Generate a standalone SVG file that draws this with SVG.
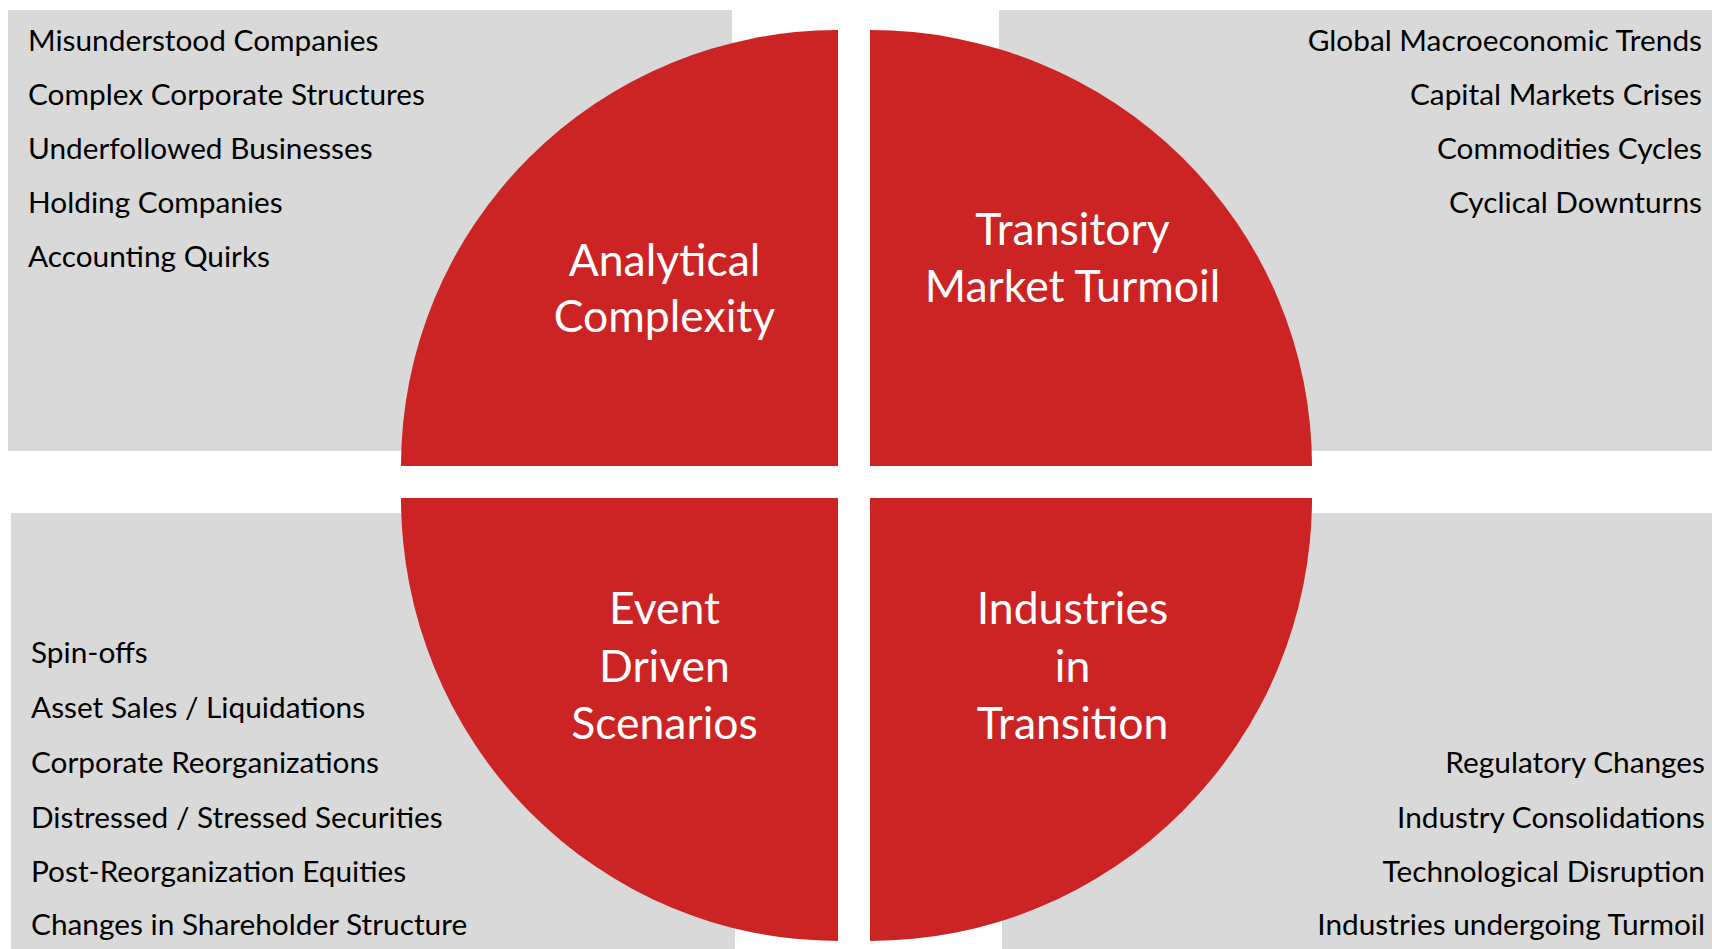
<svg xmlns="http://www.w3.org/2000/svg" width="1712" height="949" viewBox="0 0 1712 949">
<style>
.bg{fill:#D9D9D9}
.q{fill:#CC2424}
.item{font-family:Lato,"Liberation Sans",sans-serif;font-size:29.8px;fill:#000}
.r{text-anchor:end}
.lbl{font-family:Lato,"Liberation Sans",sans-serif;font-size:44.5px;fill:#fff;text-anchor:middle}
</style>
<rect width="1712" height="949" fill="#fff"/>
<g id="box-tl">
<rect class="bg" x="8" y="10" width="724" height="441"/>
<text class="item" x="28" y="51">Misunderstood Companies</text>
<text class="item" x="28" y="105">Complex Corporate Structures</text>
<text class="item" x="28" y="159">Underfollowed Businesses</text>
<text class="item" x="28" y="213">Holding Companies</text>
<text class="item" x="28" y="267">Accounting Quirks</text>
</g>
<g id="box-tr">
<rect class="bg" x="999" y="10" width="713" height="441"/>
<text class="item r" x="1702" y="51">Global Macroeconomic Trends</text>
<text class="item r" x="1702" y="105">Capital Markets Crises</text>
<text class="item r" x="1702" y="159">Commodities Cycles</text>
<text class="item r" x="1702" y="213">Cyclical Downturns</text>
</g>
<g id="box-bl">
<rect class="bg" x="11" y="513" width="724" height="436"/>
<text class="item" x="31" y="663">Spin-offs</text>
<text class="item" x="31" y="718">Asset Sales / Liquidations</text>
<text class="item" x="31" y="773">Corporate Reorganizations</text>
<text class="item" x="31" y="828">Distressed / Stressed Securities</text>
<text class="item" x="31" y="882">Post-Reorganization Equities</text>
<text class="item" x="31" y="935">Changes in Shareholder Structure</text>
</g>
<g id="box-br">
<rect class="bg" x="1002" y="513" width="710" height="436"/>
<text class="item r" x="1705" y="773">Regulatory Changes</text>
<text class="item r" x="1705" y="828">Industry Consolidations</text>
<text class="item r" x="1705" y="882">Technological Disruption</text>
<text class="item r" x="1705" y="935">Industries undergoing Turmoil</text>
</g>
<g id="q-analytical">
<path class="q" d="M838,466 L401,466 A437,436 0 0 1 838,30 Z"/>
<text class="lbl" x="664.5" y="276">Analytical</text>
<text class="lbl" x="664.5" y="332">Complexity</text>
</g>
<g id="q-transitory">
<path class="q" d="M870,466 L870,30 A442,436 0 0 1 1312,466 Z"/>
<text class="lbl" x="1072.5" y="245">Transitory</text>
<text class="lbl" x="1072.5" y="302">Market Turmoil</text>
</g>
<g id="q-event">
<path class="q" d="M838,498 L401,498 A437,443 0 0 0 838,941 Z"/>
<text class="lbl" x="664.5" y="624">Event</text>
<text class="lbl" x="664.5" y="682">Driven</text>
<text class="lbl" x="664.5" y="739">Scenarios</text>
</g>
<g id="q-industries">
<path class="q" d="M870,498 L1312,498 A442,443 0 0 1 870,941 Z"/>
<text class="lbl" x="1072.5" y="624">Industries</text>
<text class="lbl" x="1072.5" y="682">in</text>
<text class="lbl" x="1072.5" y="739">Transition</text>
</g>
<g id="connectors"/>
</svg>
